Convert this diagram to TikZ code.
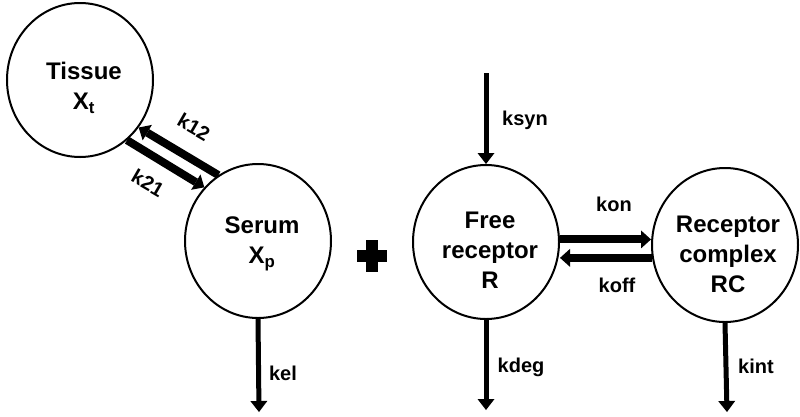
\documentclass[tikz,border=0pt]{standalone}
\usepackage{fontspec}
\setmainfont{Liberation Sans}
\usetikzlibrary{arrows.meta,shapes.geometric}
\begin{document}
\begin{tikzpicture}[x=1pt,y=-1pt,
  comp/.style={ellipse,draw,line width=2pt,minimum width=146pt,minimum height=154pt,inner sep=0pt},
  comptext/.style={align=center,inner sep=0pt,font=\fontsize{24}{30}\selectfont\bfseries},
  flow/.style={line width=5pt,-{Triangle[width=17pt,length=11pt,line width=0pt]}},
  bigflow/.style={line width=8pt,-{Triangle[width=18pt,length=10pt,line width=0pt]}},
  lab/.style={inner sep=0pt,font=\fontsize{20}{24}\selectfont\bfseries}]
\useasboundingbox (0,0) rectangle (800,416);

% compartments
\node[comp] (tis) at (80,80) {};
\node[comp] (ser) at (258,241) {};
\node[comp] (fr) at (486,242) {};
\node[comp] (rc) at (725,245) {};

\node[comptext] (tist) at (84,88) {Tissue\\X\textsubscript{t}};
\node[comptext] (sert) at (262,244) {Serum\\X\textsubscript{p}};
\node[comptext] (frt) at (490,250) {Free\\receptor\\R};
\node[comptext] (rct) at (728,254) {Receptor\\complex\\RC};

% free ends
\coordinate (synin) at (486,73);
\coordinate (degout) at (486,410);
\coordinate (elout) at (259,412);
\coordinate (intout) at (727,412);

% flows
\draw[flow] (synin) -- (fr.north);
\draw[flow] (fr.south) -- (degout);
\draw[flow] (ser.south) -- (elout);
\draw[flow] (rc.south) -- (intout);

\draw[bigflow] (fr.2) -- (fr.2 -| rc.west);
\draw[bigflow] (rc.190) -- (rc.190 -| fr.east);

\draw[bigflow] (ser.121) -- (tis.-39);
\draw[bigflow] (tis.-52) -- (ser.135);

% labels
\node[lab] (lsyn) at (525,120) {ksyn};
\node[lab] (ldeg) at (521,367) {kdeg};
\node[lab] (lon) at (614,204) {kon};
\node[lab] (loff) at (617,285) {koff};
\node[lab] (lel) at (283,373) {kel};
\node[lab] (lint) at (756,366) {kint};
\node[lab,rotate=-30] (l12) at (194,127) {k12};
\node[lab,rotate=-30] (l21) at (148,183) {k21};

% plus sign
\fill (357,250) rectangle (387,262);
\fill (366,240) rectangle (378,272);
\end{tikzpicture}
\end{document}
